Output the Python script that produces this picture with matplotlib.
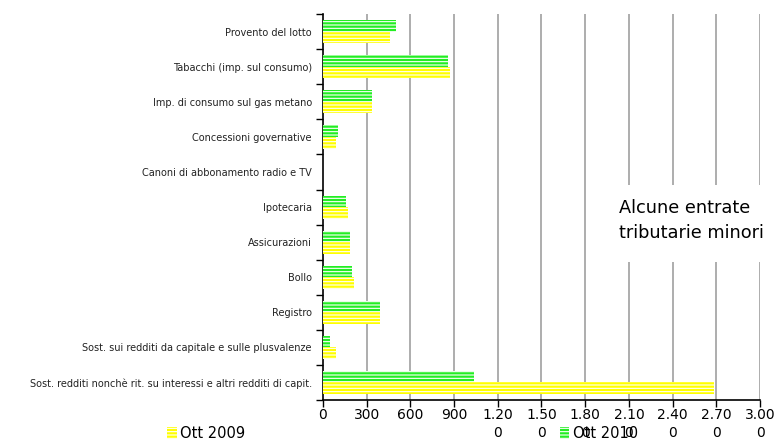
import numpy as np
import matplotlib
matplotlib.use("Agg")
import matplotlib.pyplot as plt
from matplotlib.patches import Rectangle

# Dati (milioni di euro)
categorie = [
    "Provento del lotto",
    "Tabacchi (imp. sul consumo)",
    "Imp. di consumo sul gas metano",
    "Concessioni governative",
    "Canoni di abbonamento radio e TV",
    "Ipotecaria",
    "Assicurazioni",
    "Bollo",
    "Registro",
    "Sost. sui redditi da capitale e sulle plusvalenze",
    "Sost. redditi nonchè rit. su interessi e altri redditi di capit.",
]
ott_2010 = [501, 858, 336, 103, 0, 158, 185, 199, 391, 48, 1037]
ott_2009 = [460, 872, 336, 89, 0, 172, 185, 213, 391, 89, 2684]

x_ticks = [0, 300, 600, 900, 1200, 1500, 1800, 2100, 2400, 2700, 3000]
x_labels = ["0", "300", "600", "900", "1.20\n0", "1.50\n0", "1.80\n0",
            "2.10\n0", "2.40\n0", "2.70\n0", "3.00\n0"]

verde = "#22ee22"
giallo = "#ffff00"

plt.rcParams["hatch.linewidth"] = 0.8

fig = plt.figure(figsize=(7.78, 4.43), dpi=100)
ax = fig.add_axes([0.415, 0.097, 0.562, 0.871])

n = len(categorie)
pos = np.arange(n)
h = 0.33

ax.barh(pos - h / 2, ott_2010, height=h, color=verde, edgecolor="white",
        linewidth=0, hatch="-----", zorder=3)
ax.barh(pos + h / 2, ott_2009, height=h, color=giallo, edgecolor="white",
        linewidth=0, hatch="-----", zorder=3)

ax.set_ylim(n - 0.5, -0.5)
ax.set_xlim(0, 3000)

# etichette categorie al centro, tacche ai confini
ax.set_yticks(pos)
ax.set_yticklabels(categorie, fontsize=7, color="#222222")
ax.tick_params(axis="y", length=0, pad=8)
ax.set_yticks(np.arange(-0.5, n), minor=True)
ax.tick_params(axis="y", which="minor", length=5, width=1, color="black")

ax.set_xticks(x_ticks)
ax.set_xticklabels(x_labels, fontsize=10, linespacing=1.35, va="top")
ax.tick_params(axis="x", length=5, width=1, pad=1)

for v in x_ticks[1:]:
    ax.axvline(v, color="#a0a0a0", linewidth=1.2, zorder=1)

for s in ["top", "right"]:
    ax.spines[s].set_visible(False)
ax.spines["left"].set_linewidth(1.2)
ax.spines["bottom"].set_linewidth(1.2)

# riquadro del titolo
ax.add_patch(Rectangle((1950, 4.37), 1150, 2.2, facecolor="white",
                       edgecolor="none", zorder=2, clip_on=False))
fig.text(0.796, 0.503, "Alcune entrate\ntributarie minori", fontsize=12.8,
         ha="left", va="center", linespacing=1.5)

# legenda
fig.patches.append(Rectangle((0.215, 0.008), 0.012, 0.028, facecolor=giallo,
                             edgecolor="white", linewidth=0, hatch="-----",
                             transform=fig.transFigure, figure=fig))
fig.text(0.232, 0.022, "Ott 2009", fontsize=10.5, va="center")
fig.patches.append(Rectangle((0.72, 0.008), 0.012, 0.028, facecolor=verde,
                             edgecolor="white", linewidth=0, hatch="-----",
                             transform=fig.transFigure, figure=fig))
fig.text(0.737, 0.022, "Ott 2010", fontsize=10.5, va="center")

fig.savefig("out.png", dpi=100)
